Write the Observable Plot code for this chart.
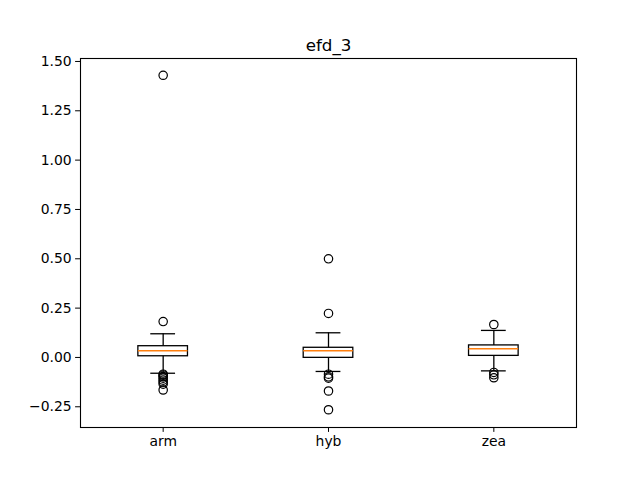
<!DOCTYPE html>
<html>
<head>
<meta charset="utf-8">
<script src="https://cdn.jsdelivr.net/npm/d3@7"></script>
<script src="https://cdn.jsdelivr.net/npm/@observablehq/plot@0.6"></script>
<style>
  html, body { margin: 0; padding: 0; background: #fff; }
  svg { font-family: "DejaVu Sans", sans-serif; }
</style>
</head>
<body>
<div id="chart"></div>
<script>
const title = "efd_3";
const categories = ["arm", "hyb", "zea"];
const q1 = [0.006, -0.002, 0.008];
const medians = [0.034, 0.034, 0.044];
const q3 = [0.057, 0.049, 0.061];
const whiskerLow = [-0.080, -0.071, -0.068];
const whiskerHigh = [0.120, 0.125, 0.137];
const armOutliers = [1.43, 0.182, -0.085, -0.09, -0.097, -0.105, -0.115, -0.125, -0.135, -0.165];
const hybOutliers = [0.50, 0.223, -0.085, -0.098, -0.105, -0.17, -0.265];
const zeaOutliers = [0.167, -0.076, -0.088, -0.103];
const yTicks = [-0.25, 0, 0.25, 0.5, 0.75, 1.0, 1.25, 1.5];

const boxHalf = 0.15, capHalf = 0.075;
const stats = categories.map((c, i) => ({
  cat: c, pos: i + 1, q1: q1[i], med: medians[i], q3: q3[i], lo: whiskerLow[i], hi: whiskerHigh[i]
}));
const outlierLists = [armOutliers, hybOutliers, zeaOutliers];
const outliers = outlierLists.flatMap((arr, i) => arr.map(v => ({pos: i + 1, v})));

const chart = Plot.plot({
  width: 640,
  height: 480,
  marginLeft: 80,
  marginRight: 64,
  marginTop: 58,
  marginBottom: 53,
  style: {fontFamily: "DejaVu Sans, sans-serif", fontSize: "13.9px", color: "black", background: "white"},
  x: {
    domain: [0.5, 3.5],
    label: null
  },
  y: {
    domain: [-0.355, 1.515],
    label: null
  },
  marks: [
    Plot.axisX({ticks: [1, 2, 3], tickFormat: d => categories[d - 1], tickSize: 4.9, tickPadding: 4, fontSize: 13.9, label: null}),
    Plot.axisY({ticks: yTicks, tickFormat: d3.format(".2f"), tickSize: 4.9, tickPadding: 4, fontSize: 13.9, label: null}),
    // whiskers
    Plot.ruleX(stats, {x: "pos", y1: "q3", y2: "hi", stroke: "black", strokeWidth: 1.3}),
    Plot.ruleX(stats, {x: "pos", y1: "lo", y2: "q1", stroke: "black", strokeWidth: 1.3}),
    // caps
    Plot.ruleY(stats, {y: "hi", x1: d => d.pos - capHalf, x2: d => d.pos + capHalf, stroke: "black", strokeWidth: 1.3}),
    Plot.ruleY(stats, {y: "lo", x1: d => d.pos - capHalf, x2: d => d.pos + capHalf, stroke: "black", strokeWidth: 1.3}),
    // boxes
    Plot.rect(stats, {x1: d => d.pos - boxHalf, x2: d => d.pos + boxHalf, y1: "q1", y2: "q3", fill: "none", stroke: "black", strokeWidth: 1.3}),
    // medians
    Plot.ruleY(stats, {y: "med", x1: d => d.pos - boxHalf, x2: d => d.pos + boxHalf, stroke: "#ff7f0e", strokeWidth: 1.3}),
    // outliers
    Plot.dot(outliers, {x: "pos", y: "v", r: 4.2, stroke: "black", fill: "none", strokeWidth: 1.2}),
    Plot.frame({stroke: "black", strokeWidth: 1.1}),
    Plot.text([title], {frameAnchor: "top", dy: -8, lineAnchor: "bottom", fontSize: 16.7, fill: "black"})
  ]
});
document.getElementById("chart").appendChild(chart);
</script>
</body>
</html>
